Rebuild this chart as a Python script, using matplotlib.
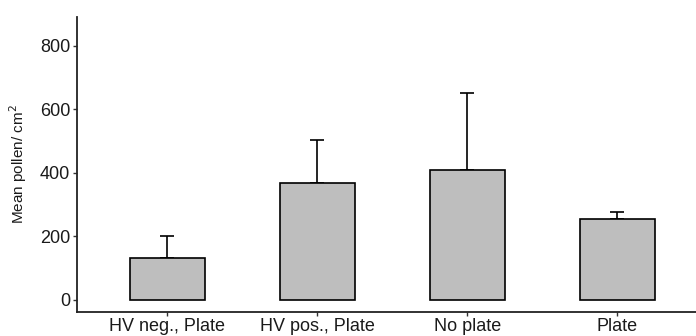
import matplotlib
matplotlib.use("Agg")
import matplotlib.pyplot as plt

categories = ["HV neg., Plate", "HV pos., Plate", "No plate", "Plate"]
means = [132, 367, 409, 253]
upper_err = [70, 137, 243, 24]

plt.rcParams['font.family'] = ['Liberation Sans', 'DejaVu Sans']

fig = plt.figure(figsize=(6.96, 3.36), dpi=100)
ax = fig.add_axes([77/696, 24/336, (707.5-77)/696, (312-17)/336])

x = list(range(1, len(categories) + 1))
ax.bar(x, means, width=0.5, color="#BEBEBE", edgecolor="black", linewidth=1.2, zorder=2)
ax.errorbar(x, means, yerr=[[0]*len(means), upper_err], fmt="none", ecolor="black",
            elinewidth=1.2, capsize=5, capthick=1.2, zorder=1)

ax.set_xlim(0.4, 4.6)
ax.set_ylim(-38, 890)
ax.set_xticks(x)
ax.set_xticklabels(categories)
ax.set_yticks([0, 200, 400, 600, 800])
ax.tick_params(axis="both", labelsize=13, length=3, width=1, color="#333333", labelcolor="#1a1a1a", pad=2)
ax.tick_params(axis="x", pad=1.5)
ax.set_ylabel("Mean pollen/ cm$^2$", fontsize=11, color="#1a1a1a", labelpad=8)

for s in ["top", "right"]:
    ax.spines[s].set_visible(False)
for s in ["left", "bottom"]:
    ax.spines[s].set_linewidth(1.3)
    ax.spines[s].set_color("#222222")

fig.savefig("out.png", dpi=100)
